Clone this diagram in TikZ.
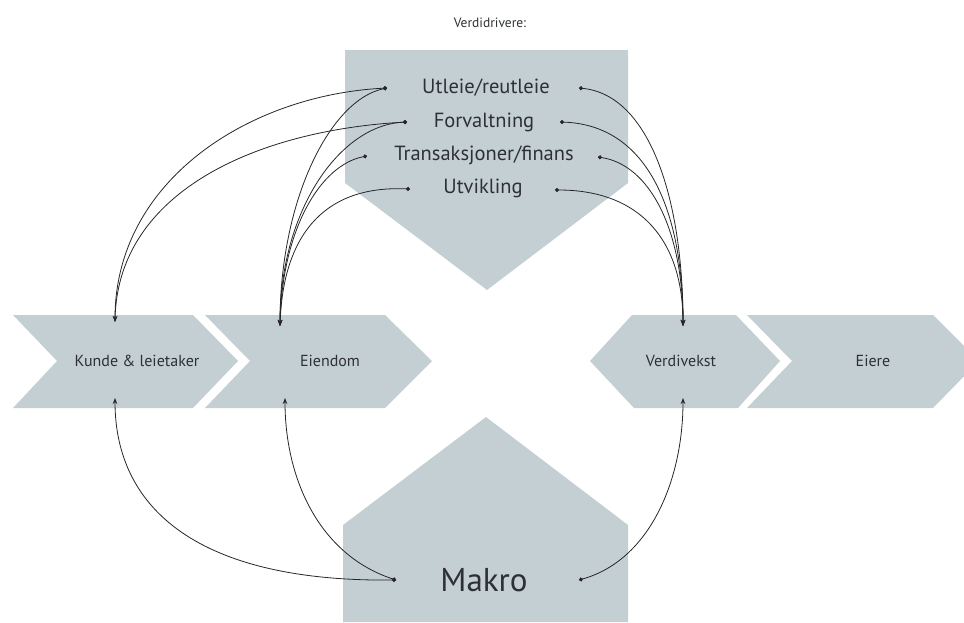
\documentclass[tikz,border=0pt]{standalone}
\usepackage{fontspec}
\setmainfont{PT Sans}
\usetikzlibrary{arrows.meta}
\definecolor{shapegrey}{HTML}{C4CFD4}
\definecolor{txt}{HTML}{2E3133}
\tikzset{
  shapefill/.style={fill=shapegrey, draw=none},
  lbl/.style={text=txt, inner sep=0pt, font=\fontsize{16}{18}\selectfont},
  drv/.style={text=txt, inner sep=0pt, font=\fontsize{20.5}{22}\selectfont},
  conn/.style={draw=black!85, line width=0.8pt, {Circle[length=4pt]}-{Stealth[length=6pt,width=4.5pt]}},
}
\begin{document}
\begin{tikzpicture}[x=1pt,y=1pt]
\useasboundingbox (0,0) rectangle (964,-622);
\clip (0,0) rectangle (964,-622);
% shapes
\path[shapefill] (345,-50) -- (628,-50) -- (628,-183) -- (487,-290) -- (345,-183) -- cycle;
\path[shapefill] (343,-622) -- (343,-525) -- (486,-417) -- (628,-525) -- (628,-622) -- cycle;
\path[shapefill] (13,-315) -- (193,-315) -- (238,-361) -- (193,-408) -- (13,-408) -- (57,-361) -- cycle;
\path[shapefill] (205,-315) -- (385,-315) -- (432,-361) -- (385,-408) -- (205,-408) -- (250,-361) -- cycle;
\path[shapefill] (590,-361) -- (632,-315) -- (736,-315) -- (780,-361) -- (738,-408) -- (634,-408) -- cycle;
\path[shapefill] (747,-315) -- (933,-315) -- (979,-361) -- (933,-408) -- (747,-408) -- (792,-361) -- cycle;
% texts
\node[text=txt, inner sep=0pt, font=\fontsize{13.5}{15}\selectfont] (title) at (490,-23) {Verdidrivere:};
\node[drv] (utl) at (486,-88) {Utleie/reutleie};
\node[drv] (forv) at (484,-122) {Forvaltning};
\node[drv] (trans) at (484,-155) {Transaksjoner/finans};
\node[drv] (utv) at (483,-188) {Utvikling};
\node[text=txt, inner sep=0pt, font=\fontsize{33}{36}\selectfont] (makro) at (484,-580) {Makro};
\node[lbl] (kunde) at (137,-361) {Kunde \& leietaker};
\node[lbl] (eien) at (330,-361) {Eiendom};
\node[lbl] (verdi) at (681,-361) {Verdivekst};
\node[lbl] (eiere) at (873,-361) {Eiere};
% dot coordinates
\coordinate (uL) at (387,-88);  \coordinate (uR) at (579,-88);
\coordinate (fL) at (407,-122); \coordinate (fR) at (560,-122);
\coordinate (tL) at (367,-156); \coordinate (tR) at (598,-157);
\coordinate (vL) at (410,-189); \coordinate (vR) at (555,-190);
\coordinate (mL) at (396,-580); \coordinate (mR) at (579,-580);
% arrow targets
\coordinate (kT) at (115,-322); \coordinate (kB) at (115,-398);
\coordinate (eT) at (280,-326); \coordinate (eB) at (285,-398);
\coordinate (dT) at (683,-326); \coordinate (dB) at (683,-398);
% connectors
\draw[conn] (uL) .. controls (250,-95) and (115,-180) .. (kT);
\draw[conn] (fL) .. controls (260,-130) and (118,-190) .. (kT);
\draw[conn] (uL) .. controls (330,-100) and (280,-200) .. (eT);
\draw[conn] (fL) .. controls (340,-125) and (280,-210) .. (eT);
\draw[conn] (tL) .. controls (320,-165) and (282,-230) .. (eT);
\draw[conn] (vL) .. controls (320,-185) and (283,-240) .. (eT);
\draw[conn] (uR) .. controls (650,-95) and (683,-200) .. (dT);
\draw[conn] (fR) .. controls (650,-125) and (683,-215) .. (dT);
\draw[conn] (tR) .. controls (650,-165) and (683,-230) .. (dT);
\draw[conn] (vR) .. controls (640,-190) and (683,-240) .. (dT);
\draw[conn] (mL) .. controls (200,-582) and (115,-510) .. (kB);
\draw[conn] (mL) .. controls (320,-555) and (285,-480) .. (eB);
\draw[conn] (mR) .. controls (650,-560) and (683,-480) .. (dB);
\end{tikzpicture}
\end{document}
